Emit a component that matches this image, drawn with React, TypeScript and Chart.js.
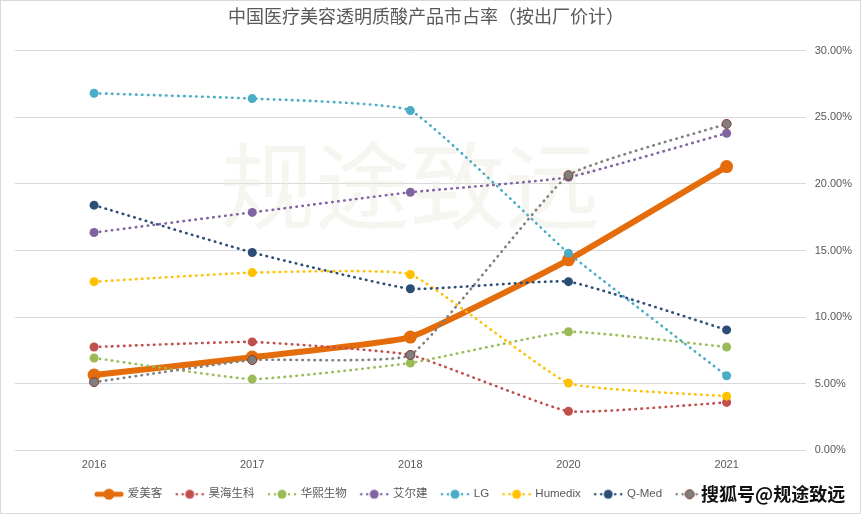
import React, { useEffect, useRef } from 'react';
import { Chart, registerables } from 'chart.js';

Chart.register(...registerables);

const years = ['2016', '2017', '2018', '2020', '2021'];
const seriesNames = ['爱美客', '昊海生科', '华熙生物', '艾尔建', 'LG', 'Humedix', 'Q-Med', '其他'];
const aimeike = [5.65, 7.0, 8.5, 14.3, 21.3];
const haohai = [7.76, 8.14, 7.16, 2.94, 3.6];
const huaxi = [6.93, 5.35, 6.56, 8.9, 7.76];
const allergan = [16.35, 17.86, 19.37, 20.5, 23.8];
const lg = [26.8, 26.4, 25.5, 14.8, 5.6];
const humedix = [12.66, 13.34, 13.2, 5.05, 4.07];
const qmed = [18.4, 14.85, 12.13, 12.66, 9.04];
const others = [5.12, 6.78, 7.16, 20.65, 24.5];
const yTicks = [0, 5, 10, 15, 20, 25, 30];

const seriesValues = [aimeike, haohai, huaxi, allergan, lg, humedix, qmed, others];
const colors = ['#E46C0A', '#C0504D', '#9BBB59', '#8064A2', '#4BACC6', '#FFC000', '#2C4D75', '#7F7F7F'];
const borderColors = ['#E46C0A', '#C0504D', '#9BBB59', '#8064A2', '#4BACC6', '#FFC000', '#2C4D75', '#843C2C'];

const FONT = "'Liberation Sans', 'Noto Sans CJK SC', sans-serif";

function makeLegendIcon(i: number): HTMLCanvasElement {
  const c = document.createElement('canvas');
  c.width = 30;
  c.height = 12;
  const ctx = c.getContext('2d')!;
  ctx.fillStyle = colors[i];
  ctx.strokeStyle = colors[i];
  if (i === 0) {
    ctx.lineWidth = 5;
    ctx.lineCap = 'round';
    ctx.beginPath();
    ctx.moveTo(3, 6);
    ctx.lineTo(27, 6);
    ctx.stroke();
    ctx.beginPath();
    ctx.arc(15, 6, 5.5, 0, Math.PI * 2);
    ctx.fill();
  } else {
    for (const x of [2, 8, 22, 28]) {
      ctx.beginPath();
      ctx.arc(x, 6, 1.3, 0, Math.PI * 2);
      ctx.fill();
    }
    ctx.beginPath();
    ctx.arc(15, 6, 4.5, 0, Math.PI * 2);
    ctx.fill();
    if (i === 7) {
      ctx.lineWidth = 1;
      ctx.strokeStyle = borderColors[i];
      ctx.stroke();
    }
  }
  return c;
}

const LEGEND_PAD = 14.5;

export default function App() {
  const ref = useRef<HTMLCanvasElement | null>(null);
  useEffect(() => {
    const icons = seriesNames.map((_, i) => makeLegendIcon(i));
    const decor = {
      id: 'decor',
      afterLayout(chart: any) {
        const lgd = chart.legend;
        if (lgd && lgd.lineWidths) {
          const x0 = (lgd.left + LEGEND_PAD + lgd.right - lgd.lineWidths[0]) / 2;
          const dx = 96 - x0;
          lgd.left += dx;
          lgd.right += dx;
        }
        const tb = chart.titleBlock;
        if (tb) {
          tb.left -= 12;
          tb.right -= 12;
        }
      },
      beforeDatasetsDraw(chart: any) {
        const { ctx, chartArea } = chart;
        ctx.save();
        ctx.font = "95px 'Noto Sans CJK SC', sans-serif";
        ctx.fillStyle = 'rgba(236,232,222,0.45)';
        ctx.textAlign = 'center';
        ctx.textBaseline = 'middle';
        ctx.fillText('规途致远', chartArea.left + 395, chartArea.top + 135);
        ctx.restore();
      },
      afterDraw(chart: any) {
        const { ctx } = chart;
        ctx.save();
        ctx.fillStyle = '#ffffff';
        ctx.fillRect(701, 482, 152, 26);
        ctx.font = "bold 18px 'Noto Sans CJK SC', sans-serif";
        ctx.textAlign = 'left';
        ctx.textBaseline = 'middle';
        ctx.lineWidth = 3;
        ctx.strokeStyle = '#ffffff';
        ctx.strokeText('搜狐号@规途致远', 701, 494);
        ctx.fillStyle = '#111111';
        ctx.fillText('搜狐号@规途致远', 701, 494);
        ctx.strokeStyle = '#d9d9d9';
        ctx.lineWidth = 1;
        ctx.strokeRect(0.5, 0.5, 860, 513);
        ctx.restore();
      },
    };
    const chart = new Chart(ref.current!, {
      type: 'line',
      data: {
        labels: years,
        datasets: seriesNames.map((name, i) => ({
          label: name,
          data: seriesValues[i],
          borderColor: colors[i],
          backgroundColor: colors[i],
          borderWidth: i === 0 ? 6 : 2.6,
          borderDash: i === 0 ? [] : [0.5, 5.5],
          borderCapStyle: 'round',
          tension: 0.12,
          pointRadius: i === 0 ? 6.5 : 4.5,
          pointBorderWidth: i === 7 ? 1 : 0,
          pointBorderColor: borderColors[i],
          pointBackgroundColor: colors[i],
          order: 7 - i,
          fill: false,
        })) as any,
      },
      plugins: [decor],
      options: {
        animation: false,
        responsive: false,
        maintainAspectRatio: false,
        layout: { padding: { left: 15, right: 0, top: 0, bottom: 4 } },
        plugins: {
          title: {
            display: true,
            text: '中国医疗美容透明质酸产品市占率（按出厂价计）',
            color: '#595959',
            font: { family: FONT, size: 18, weight: 'normal' },
            padding: { top: 7, bottom: 22 },
          },
          legend: {
            position: 'bottom',
            labels: {
              color: '#595959',
              font: { family: FONT, size: 11.5 },
              usePointStyle: true,
              pointStyleWidth: 26,
              boxHeight: 12,
              padding: LEGEND_PAD,
              generateLabels(chart: any) {
                const items = Chart.defaults.plugins.legend.labels.generateLabels(chart);
                items.sort((a: any, b: any) => a.datasetIndex - b.datasetIndex);
                items.forEach((it: any) => {
                  it.pointStyle = icons[it.datasetIndex];
                });
                return items;
              },
            },
          },
          tooltip: { enabled: false },
        },
        scales: {
          x: {
            offset: true,
            grid: { display: false, drawTicks: false },
            border: { display: false },
            ticks: { color: '#595959', font: { family: FONT, size: 11 }, padding: 8 },
            afterFit(axis: any) {
              axis.height = 23.6;
            },
          },
          y: {
            position: 'right',
            min: 0,
            max: 30,
            afterBuildTicks(axis: any) {
              axis.ticks = yTicks.map((v) => ({ value: v }));
            },
            grid: { color: '#D9D9D9', lineWidth: 1, drawTicks: false },
            border: { display: false },
            ticks: {
              color: '#595959',
              font: { family: FONT, size: 11 },
              padding: 9,
              callback: (v: any) => Number(v).toFixed(2) + '%',
            },
          },
        },
      },
    });
    return () => chart.destroy();
  }, []);
  return (
    <div style={{ position: 'fixed', left: 0, top: 0, width: 861, height: 514, background: '#fff' }}>
      <canvas ref={ref} width={861} height={514} />
    </div>
  );
}
